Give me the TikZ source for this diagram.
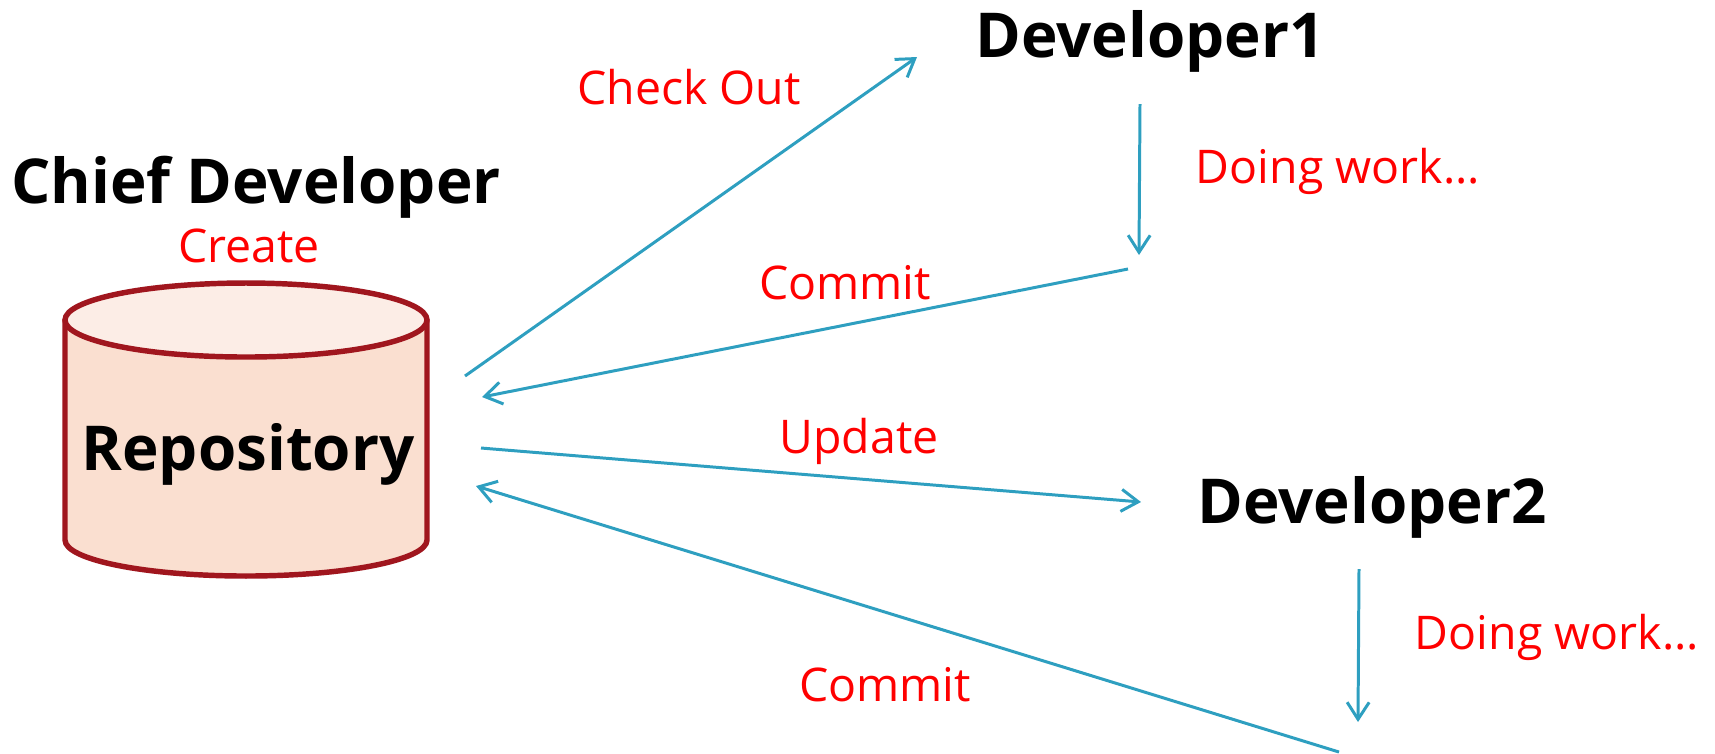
\documentclass[tikz,border=0pt]{standalone}
\usepackage{fontspec}
\setmainfont{Open Sans}
\usetikzlibrary{positioning,arrows.meta}
\definecolor{RepoRed}{RGB}{160,22,30}
\definecolor{RepoBody}{RGB}{250,223,208}
\definecolor{RepoTop}{RGB}{252,237,230}
\definecolor{FlowBlue}{RGB}{46,159,192}
\tikzset{
    who/.style={anchor=base, inner sep=0pt, font=\bfseries\fontsize{17.6}{20}\selectfont},
    action/.style={anchor=base, inner sep=0pt, text=red, font=\fontsize{13.2}{16}\selectfont},
    flow/.style={draw=FlowBlue, line width=0.85pt, -{Straight Barb[length=1.7mm, width=2.2mm]}},
    repoline/.style={draw=RepoRed, line width=1.55pt, line join=round}
}
\begin{document}
\begin{tikzpicture}[x=0.01cm, y=-0.01cm]
    \useasboundingbox (0,0) rectangle (1715,753);

    % --- REPOSITORY ---
    \draw[repoline, fill=RepoBody] (65,320) -- (65,540)
        arc[start angle=180, end angle=0, x radius=181, y radius=36] -- (427,320) -- cycle;
    \draw[repoline, fill=RepoTop] (246,320) ellipse[x radius=181, y radius=37];
    \node[who] (store) at (248,470) {Repository};
    \node[who] (chief) at (256,203) {Chief Developer};
    \node[action] (create) at (249,262) {Create};

    % --- DEVELOPERS ---
    \node[who] (dev1) at (1150,57) {Developer1};
    \node[who] (dev2) at (1372,523) {Developer2};

    % --- LABELS ---
    \node[action] (checkout) at (689,104) {Check Out};
    \node[action] (work1) at (1338,183) {Doing work...};
    \node[action] (commit1) at (845,299) {Commit};
    \node[action] (update) at (859,453) {Update};
    \node[action] (work2) at (1557,649) {Doing work...};
    \node[action] (commit2) at (885,701) {Commit};

    % --- END POINTS ---
    \coordinate (outA) at (465,376);
    \coordinate (outB) at (917,57);
    \coordinate (workA) at (1140,104);
    \coordinate (workB) at (1139,255);
    \coordinate (backA) at (1128,269);
    \coordinate (backB) at (482,397);
    \coordinate (upA) at (481,448);
    \coordinate (upB) at (1141,502);
    \coordinate (workC) at (1359,569);
    \coordinate (workD) at (1358,722);
    \coordinate (lastA) at (1339,752);
    \coordinate (lastB) at (476,486);

    % --- FLOWS ---
    \draw[flow] (outA) -- (outB);
    \draw[flow] (workA) -- (workB);
    \draw[flow] (backA) -- (backB);
    \draw[flow] (upA) -- (upB);
    \draw[flow] (workC) -- (workD);
    \draw[flow] (lastA) -- (lastB);
\end{tikzpicture}
\end{document}
